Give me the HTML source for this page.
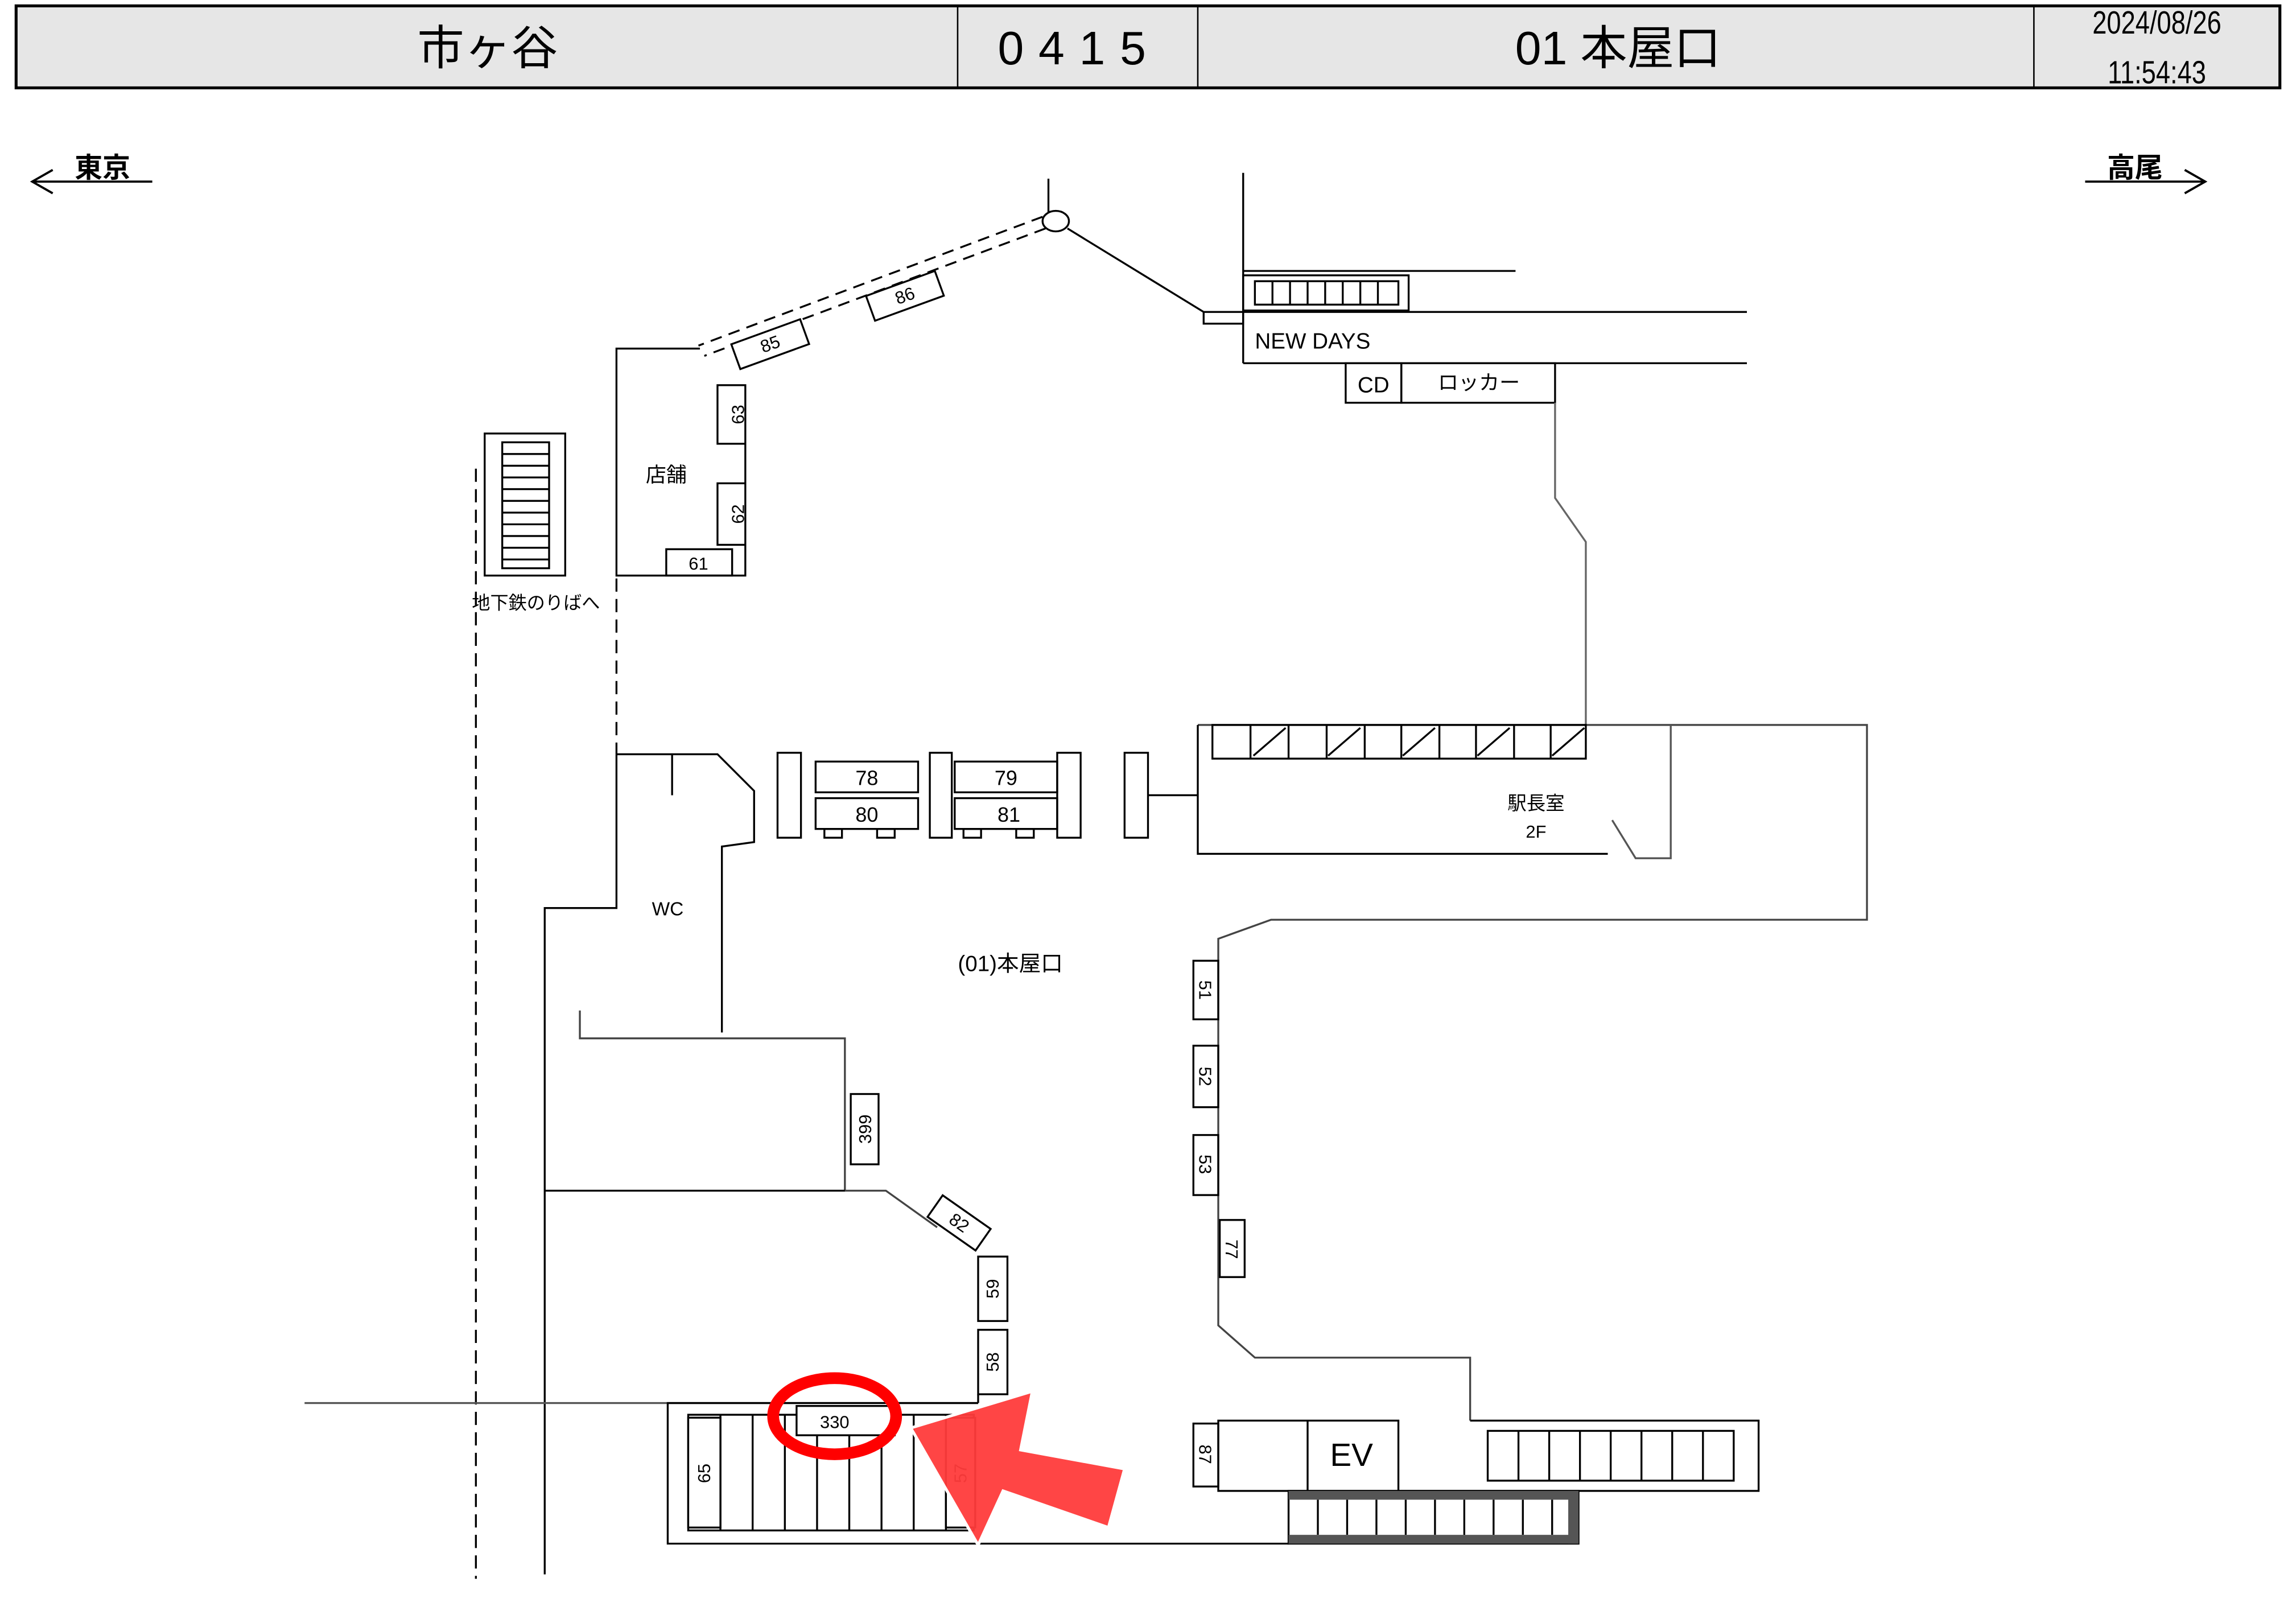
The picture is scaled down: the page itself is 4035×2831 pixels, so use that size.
<!DOCTYPE html>
<html><head><meta charset="utf-8"><style>
html,body{margin:0;padding:0;background:#fff;}
svg{display:block;}
text{font-family:"Liberation Sans","Noto Sans CJK JP",sans-serif;fill:#000;}
</style></head><body>
<svg width="4035" height="2831" viewBox="0 0 1568 1100" preserveAspectRatio="none" xmlns="http://www.w3.org/2000/svg">
<rect x="0" y="0" width="1568" height="1100" fill="#fff"/>
<!-- header -->
<rect x="11" y="4" width="1546" height="56" fill="#e6e6e6" stroke="#000" stroke-width="2"/>
<line x1="654" y1="4" x2="654" y2="60" stroke="#000"/>
<line x1="818" y1="4" x2="818" y2="60" stroke="#000"/>
<line x1="1389" y1="4" x2="1389" y2="60" stroke="#000"/>
<text x="333" y="44" font-size="32" text-anchor="middle">市ヶ谷</text>
<text x="737" y="44" font-size="32" text-anchor="middle" letter-spacing="10">0415</text>
<text x="1105" y="44" font-size="32" text-anchor="middle">01 本屋口</text>
<text x="1473" y="23" font-size="22" text-anchor="middle" transform="translate(1473 0) scale(0.8 1) translate(-1473 0)">2024/08/26</text>
<text x="1473" y="57" font-size="22" text-anchor="middle" transform="translate(1473 0) scale(0.8 1) translate(-1473 0)">11:54:43</text>
<!-- direction arrows -->
<g stroke="#000" stroke-width="1.5" fill="none">
<line x1="22" y1="124" x2="104" y2="124"/><polyline points="36,116 22,124 36,132"/>
<line x1="1424" y1="124" x2="1506" y2="124"/><polyline points="1492,116 1506,124 1492,132"/>
</g>
<text x="70" y="121" font-size="19" font-weight="bold" text-anchor="middle">東京</text>
<text x="1458" y="121" font-size="19" font-weight="bold" text-anchor="middle">高尾</text>

<g stroke="#000" stroke-width="1.3" fill="none">
<!-- top -->
<line x1="716" y1="122" x2="716" y2="146"/>
<ellipse cx="721" cy="151" rx="9" ry="7" fill="#fff"/>
<line x1="712" y1="148" x2="477" y2="236" stroke-dasharray="8,5"/>
<line x1="714" y1="156" x2="481" y2="243" stroke-dasharray="8,5"/>
<line x1="729" y1="156" x2="822" y2="213"/>
<line x1="849" y1="118" x2="849" y2="248"/>
<line x1="849" y1="185" x2="1035" y2="185"/>
<rect x="849" y="188" width="113" height="24"/>
<rect x="857" y="192" width="98" height="16"/>
<path d="M869 192v16M881 192v16M893 192v16M905 192v16M917 192v16M929 192v16M941 192v16"/>
<line x1="849" y1="213" x2="1193" y2="213"/>
<line x1="849" y1="248" x2="1193" y2="248"/>
<rect x="822" y="213" width="27" height="8"/>
<rect x="919" y="248" width="38" height="27"/>
<rect x="957" y="248" width="105" height="27"/>
<polyline points="1062,275 1062,340 1083,370 1083,495" stroke="#666"/>
<!-- shop -->
<polyline points="478,238 421,238 421,393 509,393 509,372"/>
<line x1="509" y1="303" x2="509" y2="330"/>
<rect x="490" y="263" width="19" height="40"/>
<rect x="490" y="330" width="19" height="42"/>
<rect x="455" y="375" width="45" height="18"/>
<g transform="rotate(-20 526 235)"><rect x="501" y="226" width="50" height="18" fill="#fff"/></g>
<g transform="rotate(-20 618 202)"><rect x="593" y="193" width="50" height="18" fill="#fff"/></g>
<!-- left stair -->
<rect x="331" y="296" width="55" height="97"/>
<rect x="343" y="302" width="32" height="86"/>
<path d="M343 310h32M343 318h32M343 326h32M343 334h32M343 342h32M343 350h32M343 358h32M343 366h32M343 374h32M343 382h32"/>
<line x1="325" y1="320" x2="325" y2="1078" stroke-dasharray="9,5"/>
<line x1="421" y1="395" x2="421" y2="515" stroke-dasharray="9,5"/>
<!-- WC -->
<polyline points="421,515 490,515 515,540 515,575 493,578 493,705"/>
<line x1="459" y1="515" x2="459" y2="543"/>
<polyline points="421,515 421,620 372,620 372,1075"/>
<polyline points="396,690 396,709 577,709 577,813 605,813 640,838" stroke="#444"/>
<line x1="372" y1="813" x2="577" y2="813"/>
<line x1="208" y1="958" x2="668" y2="958" stroke="#555"/>
<rect x="581" y="747" width="19" height="48"/>
<g transform="rotate(35 655 835)"><rect x="635" y="826" width="40" height="18" fill="#fff"/></g>
<rect x="668" y="858" width="20" height="44"/>
<rect x="668" y="908" width="20" height="44"/>
<line x1="668" y1="952" x2="668" y2="958"/>
<!-- center group -->
<rect x="531" y="514" width="16" height="58"/>
<rect x="557" y="520" width="70" height="21"/><rect x="557" y="545" width="70" height="21"/>
<rect x="563" y="566" width="12" height="6"/><rect x="599" y="566" width="12" height="6"/>
<rect x="635" y="514" width="15" height="58"/>
<rect x="652" y="520" width="70" height="21"/><rect x="652" y="545" width="70" height="21"/>
<rect x="658" y="566" width="12" height="6"/><rect x="694" y="566" width="12" height="6"/>
<rect x="722" y="514" width="16" height="58"/>
<rect x="768" y="514" width="16" height="58"/>
<line x1="784" y1="543" x2="818" y2="543"/>
<!-- station office -->
<polyline points="818,495 1275,495 1275,628 868,628 832,641 832,905 857,927 1004,927 1004,970" stroke="#444"/>
<polyline points="818,495 818,583 1098,583"/>
<polyline points="1101,560 1117,586 1141,586 1141,495" stroke="#555"/>
<rect x="828" y="495" width="255" height="23"/>
<path d="M854 495v23M880 495v23M906 495v23M932 495v23M957 495v23M983 495v23M1008 495v23M1034 495v23M1059 495v23"/>
<path d="M856 516l22-19M907 516l22-19M958 516l22-19M1009 516l22-19M1060 516l22-19"/>
<rect x="815" y="656" width="17" height="40"/>
<rect x="815" y="714" width="17" height="42"/>
<rect x="815" y="775" width="17" height="41"/>
<rect x="833" y="833" width="17" height="39"/>
<!-- bottom -->
<polyline points="668,958 456,958 456,1054 880,1054"/>
<rect x="470" y="966" width="195" height="79"/>
<path d="M492 966v79M514 966v79M536 966v79M558 966v79M580 966v79M602 966v79M624 966v79M646 966v79"/>
<rect x="470" y="968" width="22" height="75" fill="#fff"/>
<rect x="544" y="960" width="67" height="20" fill="#fff"/>
<rect x="646" y="968" width="20" height="75" fill="#fff"/>
<rect x="815" y="972" width="17" height="43"/>
<rect x="832" y="970" width="123" height="48"/>
<line x1="893" y1="970" x2="893" y2="1018"/>
<polyline points="1004,970 1201,970 1201,1018 955,1018"/>
<rect x="1016" y="977" width="168" height="34"/>
<path d="M1037 977v34M1058 977v34M1079 977v34M1100 977v34M1121 977v34M1142 977v34M1163 977v34"/>
<rect x="880" y="1018" width="198" height="36"/>
<path d="M900 1024v24M920 1024v24M940 1024v24M960 1024v24M980 1024v24M1000 1024v24M1020 1024v24M1040 1024v24M1060 1024v24"/>
</g>
<g fill="#555">
<rect x="880" y="1018" width="198" height="6"/>
<rect x="880" y="1048" width="198" height="6"/>
<rect x="1071" y="1018" width="7" height="36"/>
</g>
<!-- labels -->
<g font-size="15">
<text x="857" y="238">NEW DAYS</text>
<text x="938" y="268" text-anchor="middle">CD</text>
<text x="1010" y="266" text-anchor="middle" font-size="14">ロッカー</text>
<text x="455" y="329" text-anchor="middle" font-size="14">店舗</text>
<text x="366" y="416" text-anchor="middle" font-size="12.5">地下鉄のりばへ</text>
<text x="456" y="625" text-anchor="middle" font-size="13">WC</text>
<text x="690" y="663" text-anchor="middle" font-size="15">(01)本屋口</text>
<text x="1049" y="553" text-anchor="middle" font-size="13">駅長室</text>
<text x="1049" y="572" text-anchor="middle" font-size="12">2F</text>
</g>
<g font-size="12" text-anchor="middle">
<text x="477" y="389">61</text>
<text x="592" y="536" font-size="14">78</text><text x="592" y="561" font-size="14">80</text>
<text x="687" y="536" font-size="14">79</text><text x="689" y="561" font-size="14">81</text>
<text x="570" y="975">330</text>
<text transform="translate(504 283) rotate(-90)" y="4">63</text>
<text transform="translate(504 351) rotate(-90)" y="4">62</text>
<text transform="translate(526 235) rotate(-20)" y="4">85</text>
<text transform="translate(618 202) rotate(-20)" y="4">86</text>
<text transform="translate(591 771) rotate(-90)" y="4">399</text>
<text transform="translate(655 835) rotate(35)" y="4">82</text>
<text transform="translate(678 880) rotate(-90)" y="4">59</text>
<text transform="translate(678 930) rotate(-90)" y="4">58</text>
<text transform="translate(823 676) rotate(90)" y="4">51</text>
<text transform="translate(823 735) rotate(90)" y="4">52</text>
<text transform="translate(823 795) rotate(90)" y="4">53</text>
<text transform="translate(841 853) rotate(90)" y="4">77</text>
<text transform="translate(823 993) rotate(90)" y="4">87</text>
<text transform="translate(481 1006) rotate(-90)" y="4">65</text>
<text transform="translate(656 1006) rotate(-90)" y="4">57</text>
</g>
<text x="923" y="1001" font-size="22" text-anchor="middle">EV</text>
<!-- highlight -->
<ellipse cx="570" cy="967" rx="42" ry="26" fill="none" stroke="#f00" stroke-width="8"/>
<polygon points="622,975 705,950 697,990 768,1003 757,1043 685,1018 668,1055" fill="#ff3b3b" fill-opacity="0.95" stroke="#fff" stroke-width="2"/>
</svg>
</body></html>
